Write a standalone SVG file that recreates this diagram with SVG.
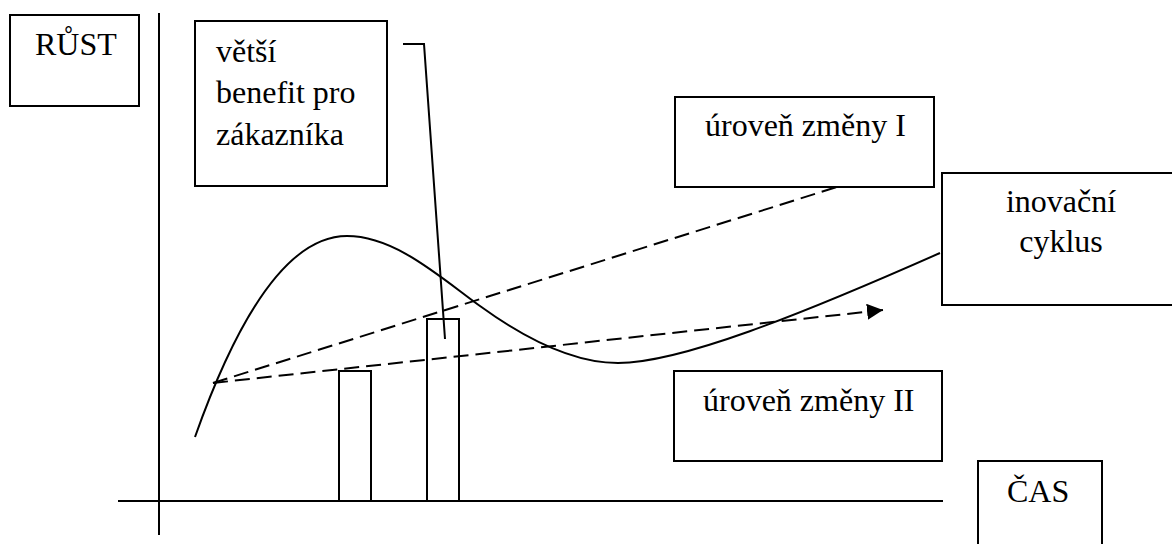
<svg xmlns="http://www.w3.org/2000/svg" width="1172" height="544" viewBox="0 0 1172 544">
<style>
.box{fill:#fff;stroke:#000;stroke-width:2}
.bar{fill:none;stroke:#000;stroke-width:2}
.ln{fill:none;stroke:#000;stroke-width:2}
.dash{fill:none;stroke:#000;stroke-width:2;stroke-dasharray:15 7}
text{font-family:"Liberation Serif","Times New Roman",serif;font-size:32px;fill:#000}
</style>
<defs>
<marker id="arr" markerWidth="16" markerHeight="16" refX="16" refY="8" orient="auto" markerUnits="userSpaceOnUse">
<path d="M0,0 L16,8 L0,16 Z" fill="#000"/>
</marker>
</defs>
<rect width="1172" height="544" fill="#fff"/>
<g id="axes">
<line class="ln" x1="159" y1="13" x2="159" y2="535"/>
<line class="ln" x1="118" y1="501" x2="943" y2="501"/>
</g>
<g id="bars">
<rect class="bar" x="339" y="371" width="32" height="130"/>
<rect class="bar" x="427" y="319" width="32" height="182"/>
</g>
<g id="connectors">
<path class="ln" d="M195,437 C240,310 290,236 347,236 C395,236 440,277 480,306 C520,335 570,363 618,363 C680,363 800,315 940,253"/>
<line class="dash" x1="213" y1="383" x2="837" y2="187"/>
<line class="dash" x1="213" y1="383" x2="883" y2="310" marker-end="url(#arr)"/>
<polyline class="ln" points="403,44 424,44 445,339"/>
</g>
<g id="node-rust">
<rect class="box" x="10" y="15" width="129" height="91"/>
<text x="35" y="55">RŮST</text>
</g>
<g id="node-benefit">
<rect class="box" x="195" y="21" width="192" height="165"/>
<text x="216" y="62">větší</text>
<text x="216" y="103">benefit pro</text>
<text x="216" y="145">zákazníka</text>
</g>
<g id="node-uroven1">
<rect class="box" x="675" y="97" width="259" height="90"/>
<text x="705" y="136">úroveň změny I</text>
</g>
<g id="node-inovacni">
<rect class="box" x="942" y="173" width="232" height="132"/>
<text x="1061" y="212" text-anchor="middle">inovační</text>
<text x="1061" y="252" text-anchor="middle">cyklus</text>
</g>
<g id="node-uroven2">
<rect class="box" x="674" y="371" width="268" height="90"/>
<text x="703" y="411">úroveň změny II</text>
</g>
<g id="node-cas">
<rect class="box" x="978" y="461" width="124" height="90"/>
<text x="1007" y="502">ČAS</text>
</g>
</svg>
